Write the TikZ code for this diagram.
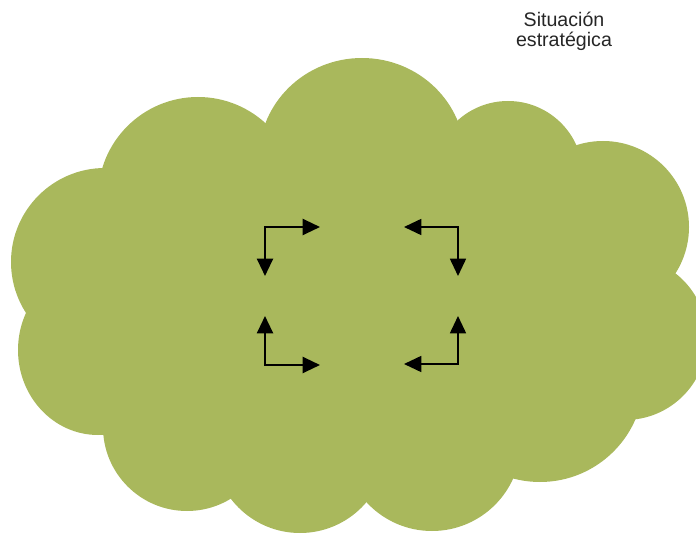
\documentclass[tikz,border=0pt]{standalone}
\usepackage{fontspec}
\setmainfont{Liberation Sans}
\usetikzlibrary{arrows.meta}
\definecolor{cloudgreen}{RGB}{169,184,92}
\definecolor{labelgray}{RGB}{38,38,38}

\begin{document}
\begin{tikzpicture}[x=0.75pt,y=-0.75pt,
  puff/.style={fill=cloudgreen},
  elbow/.style={line width=#1,
    {Triangle[length=13pt,width=12pt]}-{Triangle[length=13pt,width=12pt]}},
  caption/.style={align=center, inner sep=0pt, text=labelgray,
    font=\fontsize{14.7pt}{15pt}\selectfont}]
\useasboundingbox (0,0) rectangle (696,534);

% cloud: a ring of puffs round a filled core
\begin{scope}
  \clip (0,0) rectangle (696,534);
  \fill[puff] (105,262) -- (198,197) -- (362,158) -- (508,176) -- (603,227)
    -- (625,338) -- (540,378) -- (432,442) -- (300,446) -- (187,427)
    -- (98,350) -- cycle;
  \fill[puff] (105,262) circle[radius=94];                    % left
  \fill[puff] (198,197) circle[radius=100];                   % upper left
  \fill[puff] (362,158) ellipse[x radius=103, y radius=100];  % top
  \fill[puff] (508,176) circle[radius=75];                    % upper right
  \fill[puff] (603,227) circle[radius=86];                    % right, upper
  \fill[puff] (625,338) circle[radius=82];                    % right, lower
  \fill[puff] (540,378) circle[radius=104];                   % bottom right
  \fill[puff] (432,442) circle[radius=89];                    % bottom, right of middle
  \fill[puff] (300,446) circle[radius=87];                    % bottom, left of middle
  \fill[puff] (187,427) circle[radius=84];                    % bottom left
  \fill[puff] (98,350) ellipse[x radius=80, y radius=85];     % lower left
\end{scope}

% caption
\node[caption] (title) at (564,31.6) {Situación\\estratégica};

% elbow arrow end points
\coordinate (tlDown)  at (265,276);
\coordinate (tlRight) at (320,227);
\coordinate (trLeft)  at (404,227);
\coordinate (trDown)  at (458,276);
\coordinate (blUp)    at (265,316);
\coordinate (blRight) at (320,365);
\coordinate (brLeft)  at (404,364);
\coordinate (brUp)    at (458,316);

% four elbow arrows
\draw[elbow=1.6pt] (tlDown) |- (tlRight);
\draw[elbow=1.3pt] (trLeft) -| (trDown);
\draw[elbow=1.6pt] (blUp) |- (blRight);
\draw[elbow=1.3pt] (brLeft) -| (brUp);
\end{tikzpicture}
\end{document}
